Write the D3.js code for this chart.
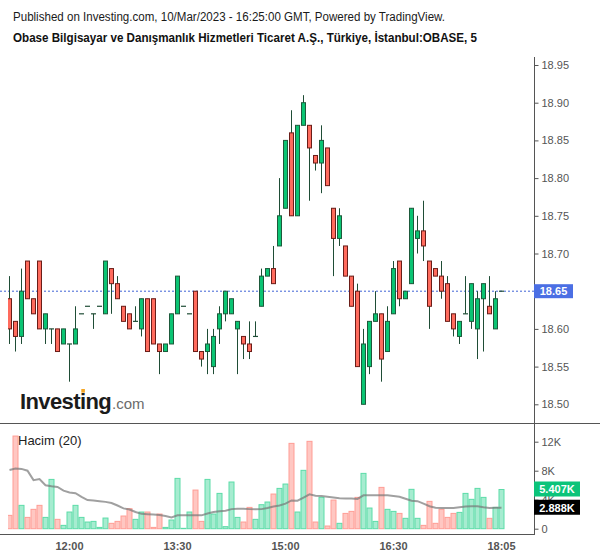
<!DOCTYPE html>
<html>
<head>
<meta charset="utf-8">
<script src="https://cdn.jsdelivr.net/npm/d3@7"></script>
<style>
  html, body { margin: 0; padding: 0; background: #fff; }
  svg { display: block; font-family: "Liberation Sans", Arial, sans-serif; }
</style>
</head>
<body>
<svg id="chart" width="600" height="558"></svg>
<script>
// ---------- DATA ----------
const times = ["11:10","11:15","11:20","11:25","11:30","11:35","11:40","11:45","11:50","11:55",
  "12:00","12:05","12:10","12:15","12:20","12:25","12:30","12:35","12:40","12:45","12:50","12:55",
  "13:00","13:05","13:10","13:15","13:20","13:25","13:30","13:35","13:40","13:45","13:50","13:55",
  "14:00","14:05","14:10","14:15","14:20","14:25","14:30","14:35","14:40","14:45","14:50","14:55",
  "15:00","15:05","15:10","15:15","15:20","15:25","15:30","15:35","15:40","15:45","15:50","15:55",
  "16:00","16:05","16:10","16:15","16:20","16:25","16:30","16:35","16:40","16:45","16:50","16:55",
  "17:00","17:05","17:10","17:15","17:20","17:25","17:30","17:35","17:40","17:45","17:50","17:55","18:05"];

const open = [18.64,18.61,18.59,18.69,18.64,18.69,18.60,18.60,18.60,18.58,18.58,18.58,18.62,18.63,18.62,18.63,18.62,18.68,18.66,18.63,
  18.62,18.61,18.60,18.64,18.64,18.58,18.57,18.58,18.62,18.63,18.62,18.65,18.57,18.57,18.55,18.60,18.62,18.62,18.60,18.59,
  18.58,18.59,18.63,18.67,18.68,18.71,18.76,18.86,18.75,18.87,18.87,18.83,18.82,18.84,18.76,18.72,18.71,18.67,18.65,18.50,
  18.55,18.61,18.62,18.57,18.62,18.69,18.64,18.66,18.72,18.73,18.69,18.68,18.67,18.66,18.62,18.59,18.62,18.61,18.60,18.64,
  18.63,18.60,18.65];
const high = [18.67,18.61,18.68,18.69,18.64,18.69,18.62,18.60,18.60,18.60,18.58,18.63,18.62,18.63,18.62,18.63,18.69,18.68,18.67,18.63,
  18.62,18.63,18.64,18.64,18.64,18.58,18.58,18.62,18.67,18.63,18.62,18.65,18.57,18.60,18.60,18.63,18.65,18.64,18.61,18.59,
  18.61,18.61,18.68,18.68,18.71,18.80,18.85,18.89,18.87,18.91,18.87,18.83,18.87,18.84,18.76,18.76,18.71,18.67,18.66,18.60,
  18.61,18.65,18.62,18.63,18.69,18.69,18.65,18.76,18.75,18.77,18.69,18.68,18.69,18.67,18.62,18.61,18.67,18.66,18.65,18.66,
  18.67,18.65,18.65];
const low = [18.58,18.57,18.58,18.64,18.62,18.60,18.58,18.58,18.57,18.58,18.53,18.58,18.62,18.63,18.60,18.63,18.62,18.62,18.64,18.61,
  18.60,18.61,18.59,18.57,18.58,18.54,18.57,18.58,18.62,18.63,18.62,18.57,18.55,18.54,18.54,18.58,18.61,18.62,18.54,18.56,
  18.56,18.59,18.63,18.67,18.66,18.71,18.76,18.75,18.75,18.87,18.77,18.81,18.78,18.79,18.67,18.71,18.67,18.63,18.55,18.50,
  18.54,18.61,18.53,18.57,18.62,18.63,18.64,18.66,18.70,18.69,18.60,18.67,18.64,18.61,18.59,18.58,18.62,18.60,18.56,18.57,
  18.62,18.60,18.65];
const close = [18.60,18.59,18.65,18.64,18.62,18.60,18.62,18.60,18.57,18.60,18.58,18.60,18.62,18.63,18.62,18.63,18.69,18.66,18.64,18.61,
  18.60,18.61,18.64,18.57,18.58,18.57,18.58,18.62,18.67,18.63,18.62,18.57,18.56,18.58,18.59,18.62,18.65,18.64,18.61,18.58,
  18.57,18.59,18.67,18.68,18.66,18.75,18.85,18.75,18.87,18.90,18.84,18.82,18.85,18.79,18.72,18.75,18.67,18.63,18.55,18.58,
  18.61,18.62,18.56,18.61,18.68,18.64,18.65,18.76,18.73,18.71,18.63,18.67,18.65,18.61,18.60,18.61,18.62,18.66,18.64,18.66,
  18.62,18.64,18.65];
// volume in thousands
const volume = [1.84,12.78,3.22,1.56,2.67,3.22,1.56,6.80,1.29,0.46,2.30,3.22,1.56,0.92,1.01,0.18,1.47,0.74,1.01,1.75,
  2.76,1.29,2.30,2.30,0.18,2.02,0.18,1.20,6.94,0.05,2.30,5.33,1.01,6.80,2.02,4.87,0.28,6.44,1.56,0.92,
  2.94,1.29,3.31,3.68,4.78,5.56,6.16,11.77,2.30,8.05,12.05,0.92,4.32,0.37,3.95,0.74,2.11,2.39,4.32,7.63,
  2.85,1.01,5.70,2.67,2.39,2.11,1.43,5.43,1.43,0.46,3.77,0.74,2.67,1.56,2.11,2.25,4.87,4.05,5.56,4.32,
  1.43,2.94,5.407];
// 20-period volume average (thousands)
const volumeMA = [8.1,8.3,8.25,8.0,6.7,6.85,6.0,5.85,5.75,5.25,5.0,4.9,4.4,3.95,3.9,3.8,3.7,3.55,3.2,2.8,
  2.65,2.3,2.05,2.0,1.95,1.9,1.75,1.55,1.84,1.84,1.84,1.84,1.84,2.1,2.3,2.4,2.48,2.7,2.75,2.75,
  2.7,2.67,2.7,2.85,3.05,3.2,3.45,3.9,3.86,4.3,4.75,4.55,4.5,4.4,4.3,4.2,4.15,4.15,4.1,4.6,
  4.6,4.6,4.6,4.6,4.5,4.4,4.14,3.86,3.8,3.45,3.1,2.9,2.85,2.85,2.85,2.95,3.05,3.1,3.1,2.95,
  2.85,2.9,2.888];

const priceTicks = [18.50,18.55,18.60,18.65,18.70,18.75,18.80,18.85,18.90,18.95];
const volumeTicks = [0,4,8,12];
const timeTicks = ["12:00","13:30","15:00","16:30","18:05"];
const lastPrice = 18.65;
const lastVolume = 5.407;
const lastMA = 2.888;

const titleLine1 = "Published on Investing.com, 10/Mar/2023 - 16:25:00 GMT, Powered by TradingView.";
const titleLine2 = "Obase Bilgisayar ve Danışmanlık Hizmetleri Ticaret A.Ş., Türkiye, İstanbul:OBASE, 5";

// ---------- STYLE ----------
const upFill = "#0bc473", downFill = "#ff6b5d";
const upStroke = "#1d5a3b", downStroke = "#6a1d18", wickColor = "#1f4d36";
const volUpFill = "#a6ecd0", volUpStroke = "#5cdca8";
const volDownFill = "#ffc7c2", volDownStroke = "#ff9d95";
const axisColor = "#555";

const svg = d3.select("#chart");

// ---------- SCALES ----------
const x = d3.scaleBand().domain(times).range([6.5, 504.5]).paddingInner(0).paddingOuter(0);
const cx = t => x(t) + x.bandwidth() / 2;
const y = d3.scaleLinear().domain([18.50, 18.95]).range([404.3, 65]);
const yv = d3.scaleLinear().domain([0, 12]).range([528.7, 441.7]);

// clip paths
const defs = svg.append("defs");
defs.append("clipPath").attr("id", "clipPrice").append("rect").attr("x", 8).attr("y", 50).attr("width", 526).attr("height", 373);
defs.append("clipPath").attr("id", "clipVol").append("rect").attr("x", 8).attr("y", 424).attr("width", 526).attr("height", 110);

// ---------- TITLES ----------
svg.append("text").attr("x", 13).attr("y", 21).attr("font-size", 12.5).attr("fill", "#1a1a1a")
  .attr("textLength", 432).attr("lengthAdjust", "spacingAndGlyphs").text(titleLine1);
svg.append("text").attr("x", 13).attr("y", 42).attr("font-size", 13).attr("font-weight", "bold").attr("fill", "#111")
  .attr("textLength", 464).attr("lengthAdjust", "spacingAndGlyphs").text(titleLine2);

// ---------- FRAME LINES ----------
svg.append("line").attr("x1", 0).attr("x2", 600).attr("y1", 423.5).attr("y2", 423.5).attr("stroke", axisColor);
svg.append("line").attr("x1", 0).attr("x2", 534).attr("y1", 534.5).attr("y2", 534.5).attr("stroke", axisColor);
svg.append("line").attr("x1", 534.5).attr("x2", 534.5).attr("y1", 57).attr("y2", 535).attr("stroke", axisColor);

// ---------- PRICE PANE ----------
const data = times.map((t, i) => ({t, o: open[i], h: high[i], l: low[i], c: close[i], v: volume[i], ma: volumeMA[i]}));

// Investing watermark
const logo = svg.append("g");
logo.append("text").attr("x", 20).attr("y", 409).attr("font-size", 22).attr("font-weight", "bold")
  .attr("letter-spacing", -0.6).attr("fill", "#1b1b1b").text("Investing");
logo.append("text").attr("x", 112).attr("y", 409).attr("font-size", 15).attr("fill", "#6b6b6b").text(".com");
logo.append("rect").attr("x", 81.3).attr("y", 389).attr("width", 3.6).attr("height", 3.6).attr("fill", "#f5a623");

// last price dashed line
svg.append("line").attr("x1", 0).attr("x2", 534).attr("y1", y(lastPrice)).attr("y2", y(lastPrice))
  .attr("stroke", "#3f63d6").attr("stroke-width", 1).attr("stroke-dasharray", "2,2");

const pg = svg.append("g").attr("clip-path", "url(#clipPrice)");
// wicks
pg.selectAll("line.wick").data(data).join("line").attr("class", "wick")
  .attr("x1", d => cx(d.t)).attr("x2", d => cx(d.t))
  .attr("y1", d => y(d.h)).attr("y2", d => y(d.l))
  .attr("stroke", wickColor).attr("stroke-width", 1);
// bodies
pg.selectAll("rect.body").data(data.filter(d => d.o !== d.c)).join("rect").attr("class", "body")
  .attr("x", d => cx(d.t) - 2).attr("width", 4)
  .attr("y", d => y(Math.max(d.o, d.c)))
  .attr("height", d => Math.abs(y(d.o) - y(d.c)))
  .attr("fill", d => d.c > d.o ? upFill : downFill)
  .attr("stroke", d => d.c > d.o ? upStroke : downStroke).attr("stroke-width", 1);
// dojis
pg.selectAll("line.doji").data(data.filter(d => d.o === d.c)).join("line").attr("class", "doji")
  .attr("x1", d => cx(d.t) - 2.5).attr("x2", d => cx(d.t) + 2.5)
  .attr("y1", d => y(d.c)).attr("y2", d => y(d.c))
  .attr("stroke", wickColor).attr("stroke-width", 1.2);

// price axis (the last-price tag covers its own tick label)
const pAxis = svg.append("g").attr("transform", "translate(534.5,0)")
  .call(d3.axisRight(y).tickValues(priceTicks).tickSize(4).tickPadding(3).tickFormat(d3.format(".2f")));
pAxis.select(".domain").remove();
pAxis.selectAll(".tick line").attr("stroke", axisColor);
pAxis.selectAll(".tick text").attr("fill", "#555").attr("font-size", 11).attr("font-family", "Liberation Sans, Arial, sans-serif");
pAxis.selectAll(".tick").filter(d => Math.abs(d - lastPrice) < 1e-9).select("text").remove();

// last price label
const lp = svg.append("g");
lp.append("rect").attr("x", 534).attr("y", y(lastPrice) - 7).attr("width", 39).attr("height", 14).attr("fill", "#4b6fe4");
lp.append("text").attr("x", 553.5).attr("y", y(lastPrice) + 4).attr("text-anchor", "middle")
  .attr("font-size", 11).attr("font-weight", "bold").attr("fill", "#fff").text(d3.format(".2f")(lastPrice));

// ---------- VOLUME PANE ----------
const vg = svg.append("g").attr("clip-path", "url(#clipVol)");
vg.selectAll("rect.vol").data(data).join("rect").attr("class", "vol")
  .attr("x", d => x(d.t) + 0.5).attr("width", 5)
  .attr("y", d => yv(d.v)).attr("height", d => yv(0) - yv(d.v))
  .attr("fill", d => d.c >= d.o ? volUpFill : volDownFill)
  .attr("stroke", d => d.c >= d.o ? volUpStroke : volDownStroke).attr("stroke-width", 1);
vg.append("path").datum(data)
  .attr("d", d3.line().x(d => cx(d.t)).y(d => yv(d.ma)).curve(d3.curveLinear))
  .attr("fill", "none").attr("stroke", "#777").attr("stroke-opacity", 0.7).attr("stroke-width", 2);

svg.append("text").attr("x", 18).attr("y", 445).attr("font-size", 13).attr("fill", "#222").text("Hacim (20)");

const vAxis = svg.append("g").attr("transform", "translate(534.5,0)")
  .call(d3.axisRight(yv).tickValues(volumeTicks).tickSize(4).tickPadding(3).tickFormat(d => d === 0 ? "0" : d + "K"));
vAxis.select(".domain").remove();
vAxis.selectAll(".tick line").attr("stroke", axisColor);
vAxis.selectAll(".tick text").attr("fill", "#555").attr("font-size", 11).attr("font-family", "Liberation Sans, Arial, sans-serif");

// volume labels
const vl = svg.append("g");
vl.append("rect").attr("x", 534).attr("y", yv(lastVolume) - 8).attr("width", 46).attr("height", 15).attr("fill", "#0cc47a");
vl.append("text").attr("x", 557).attr("y", yv(lastVolume) + 4).attr("text-anchor", "middle")
  .attr("font-size", 11).attr("font-weight", "bold").attr("fill", "#fff").text(lastVolume.toFixed(3) + "K");
vl.append("rect").attr("x", 534).attr("y", yv(lastMA) - 8).attr("width", 46).attr("height", 15).attr("fill", "#000");
vl.append("text").attr("x", 557).attr("y", yv(lastMA) + 4).attr("text-anchor", "middle")
  .attr("font-size", 11).attr("font-weight", "bold").attr("fill", "#fff").text(lastMA.toFixed(3) + "K");

// ---------- TIME AXIS ----------
const tAxis = svg.append("g").attr("transform", "translate(0,534.5)")
  .call(d3.axisBottom(x).tickValues(timeTicks).tickSize(0).tickPadding(8));
tAxis.select(".domain").remove();
tAxis.selectAll(".tick text").attr("fill", "#555").attr("font-size", 11).attr("font-weight", "bold")
  .attr("font-family", "Liberation Sans, Arial, sans-serif");
</script>
</body>
</html>
